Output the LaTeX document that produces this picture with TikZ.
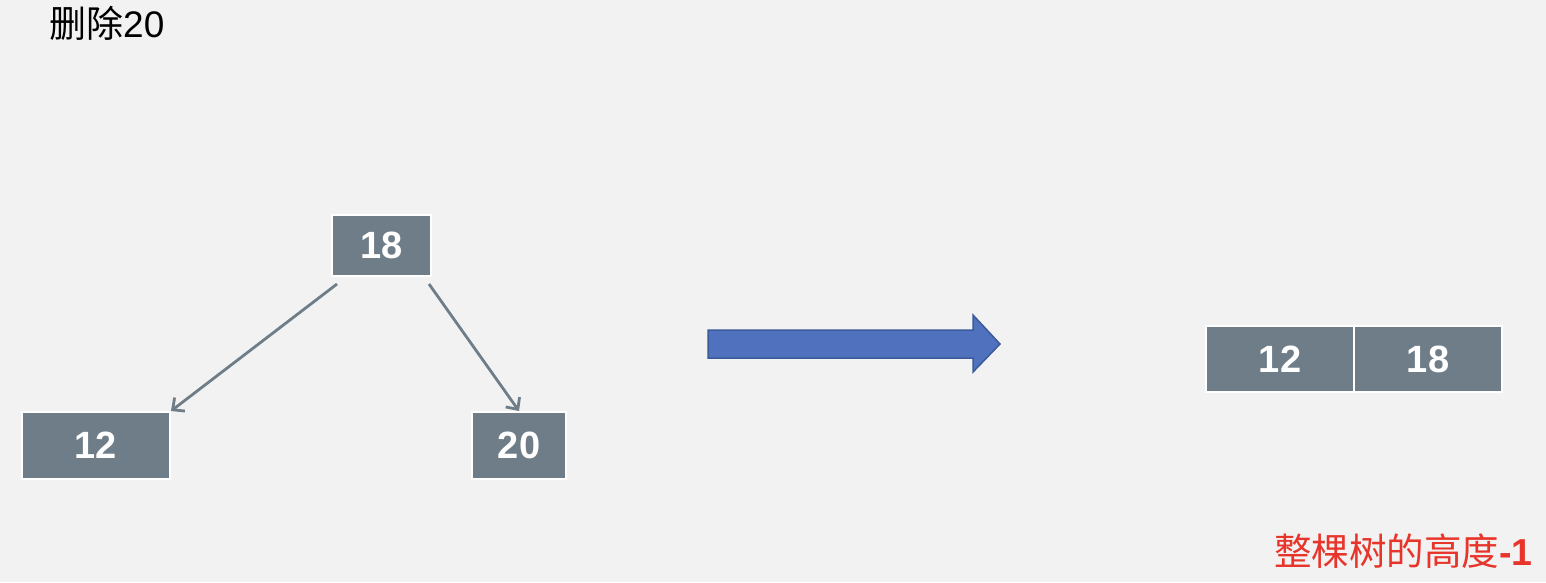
\documentclass[tikz,border=0pt]{standalone}
\usepackage{fontspec}
\setmainfont{Liberation Sans}
\newfontfamily\cjk{Noto Sans CJK SC}
\usepackage{tikz}
\usetikzlibrary{arrows.meta}
\definecolor{bggray}{HTML}{F2F2F2}
\definecolor{boxgray}{HTML}{6E7D87}
\definecolor{arrowblue}{HTML}{4F71BE}
\definecolor{arrowedge}{HTML}{3A5A9A}
\definecolor{notered}{HTML}{E8352B}

\begin{document}
\begin{tikzpicture}[x=1pt,y=-1pt,
  box/.style={rectangle,fill=boxgray,draw=white,line width=2pt,inner sep=0pt,
    text=white,font=\bfseries\fontsize{38}{38}\selectfont},
  edge/.style={draw=boxgray,line width=2.8pt,-{Straight Barb[length=9pt,width=17pt,line width=2.8pt]}}]
% background
\fill[bggray] (0,0) rectangle (1546,582);
\useasboundingbox (0,0) rectangle (1546,582);

% title
\node[anchor=base west,inner sep=0pt,font=\fontsize{37}{37}\selectfont] (title) at (49,37) {{\cjk 删除}20};

% tree before
\node[box,minimum width=99pt,minimum height=61pt] (n18) at (381.5,245.5) {18};
\node[box,minimum width=148pt,minimum height=67pt] (l12) at (96,445.5) {12};
\node[box,minimum width=94pt,minimum height=67pt] (r20) at (519,445.5) {20};
\draw[edge] ([xshift=6pt,yshift=-7pt]n18.south west) -- (l12.north east);
\draw[edge] ([xshift=-3pt,yshift=-7pt]n18.south east) -- (r20.north);

% big arrow
\draw[fill=arrowblue,draw=arrowedge,line width=1.5pt,line join=miter]
  (708,330) -- (973,330) -- (973,315) -- (1000,344) -- (973,372) -- (973,358) -- (708,358) -- cycle;

% tree after
\node[box,minimum width=148pt,minimum height=66pt] (a12) at (1280,359) {12};
\node[box,minimum width=148pt,minimum height=66pt] (a18) at (1428,359) {18};

% note
\node[anchor=base east,inner sep=0pt,text=notered,font=\fontsize{37.5}{37.5}\selectfont] (note) at (1533,565) {{\cjk 整棵树的高度}\textbf{-1}};
\end{tikzpicture}
\end{document}
